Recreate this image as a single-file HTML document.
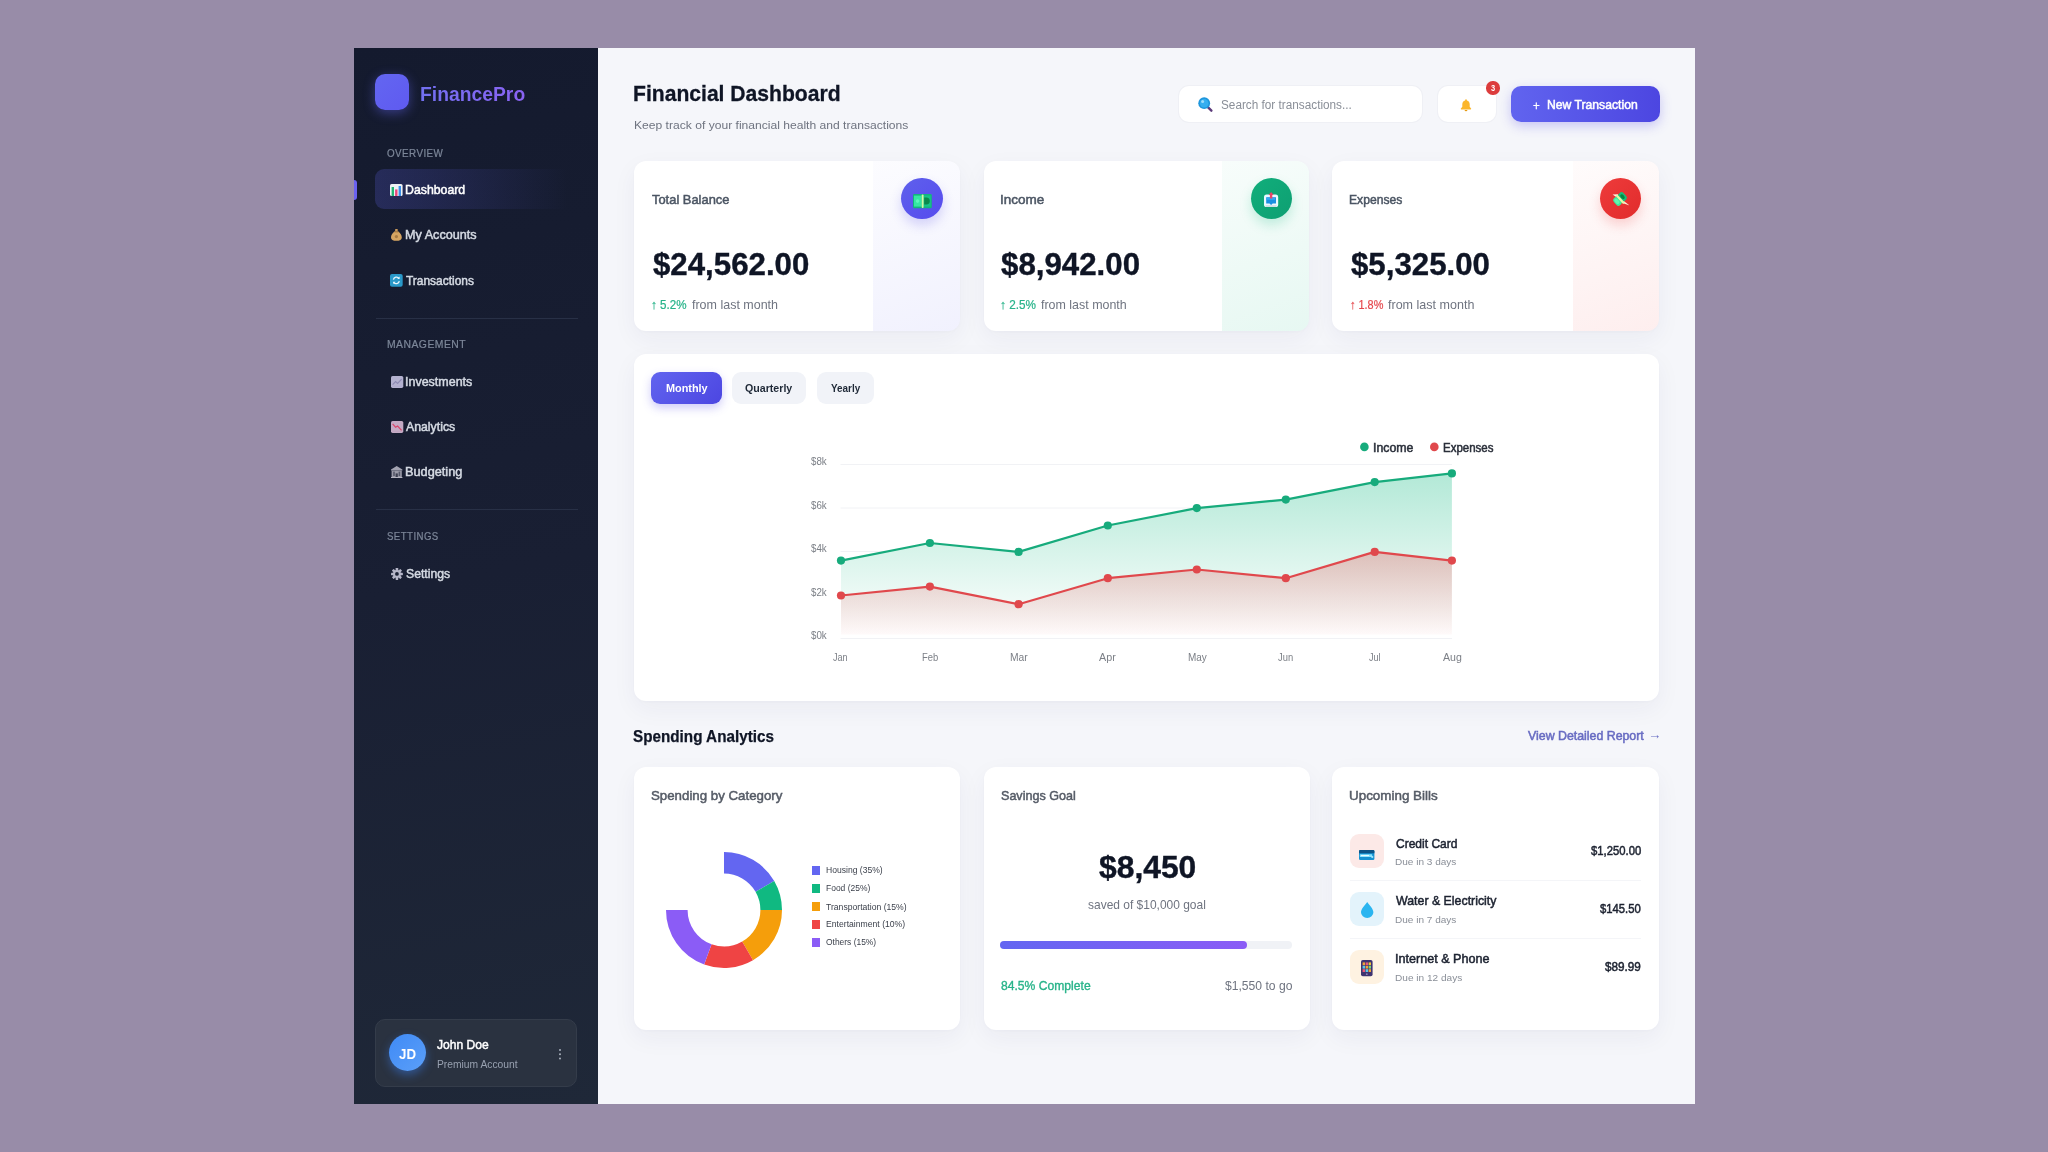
<!DOCTYPE html>
<html lang="en">
<head>
<meta charset="utf-8">
<title>FinancePro - Financial Dashboard</title>
<style>
*{box-sizing:border-box;margin:0;padding:0}
html,body{width:2048px;height:1152px;overflow:hidden}
body{background:#988ca8;font-family:"Liberation Sans",sans-serif;position:relative;color:#111827}
.abs,.t{position:absolute}
.t{white-space:nowrap;line-height:1;display:block;transform-origin:0 0}
#side{left:353.7px;top:47.8px;width:244px;height:1055.8px;background:linear-gradient(168deg,#141a2e 0%,#191f33 50%,#1f2838 100%)}
#main{left:597.6px;top:47.8px;width:1097.1px;height:1055.8px;background:#f5f6fa}
.card{position:absolute;background:#fff;border-radius:12px;box-shadow:0 8px 24px rgba(30,40,90,.05),0 1px 3px rgba(30,40,90,.025);overflow:hidden}
.tint{position:absolute;right:0;top:0;width:86.5px;height:100%}
.hr{position:absolute;height:1px;background:#283046;left:376px;width:201.5px}
.ic{position:absolute;width:41.400px;height:41.200px;border-radius:50%;top:178px}
.tab{position:absolute;height:32.200px;border-radius:9px;background:#f1f3f8;top:371.600px}
.sq{position:absolute;width:8.700px;height:8.800px;left:811.600px;margin-top:-.3px}
.bi{position:absolute;width:34.2px;height:34.2px;border-radius:9px;left:1349.6px}
.sep{position:absolute;left:1350px;width:291px;height:1px;background:#f4f5f8}
svg{position:absolute;overflow:visible}
</style>
</head>
<body>
<div id="side" class="abs"></div>
<div id="main" class="abs"></div>

<!-- SIDEBAR -->
<div class="abs" style="left:374.6px;top:74.4px;width:34.6px;height:35.2px;border-radius:10px;background:linear-gradient(135deg,#6366f1,#5f5af0);box-shadow:0 3px 12px rgba(99,102,241,.45)"></div>
<div class="abs" style="left:353.7px;top:179.8px;width:3.4px;height:20px;border-radius:0 3px 3px 0;background:#6b63f1"></div>
<div class="abs" style="left:374.7px;top:169.4px;width:203px;height:40.1px;border-radius:9px;background:linear-gradient(90deg,rgba(99,102,241,.22),rgba(99,102,241,.12) 45%,rgba(99,102,241,0) 95%)"></div>
<div class="hr" style="top:317.5px"></div>
<div class="hr" style="top:509px"></div>
<div class="abs" style="left:374.8px;top:1019px;width:202.4px;height:67.5px;border-radius:10px;background:#2a3240;border:1px solid #343c4a"></div>
<div class="abs" style="left:389px;top:1034.3px;width:37.2px;height:37.2px;border-radius:50%;background:linear-gradient(135deg,#3f8af6,#5b9ff8);box-shadow:0 4px 10px rgba(59,130,246,.45)"></div>
<div class="abs" style="left:558.700px;top:1048.700px;width:2.700px;height:2.700px;border-radius:50%;background:#a9b0bc;box-shadow:0 4.300px 0 #a9b0bc,0 8.600px 0 #a9b0bc"></div>

<!-- nav icons -->
<svg style="left:390.3px;top:184.4px" width="12.6" height="12" viewBox="0 0 12.6 12"><rect width="12.6" height="12" rx="1.6" fill="#eef1f4"/><rect x="1.6" y="3" width="2.4" height="9" fill="#22b573"/><rect x="5.1" y="5.4" width="2.4" height="6.6" fill="#e8457a"/><rect x="8.6" y="2" width="2.4" height="10" fill="#3b8fe8"/></svg>
<svg style="left:391.2px;top:229.3px" width="10.8" height="11.8" viewBox="0 0 10.8 11.8"><rect x="4.1" y="0" width="2.6" height="2.4" rx=".6" fill="#c99a5b"/><path d="M3.6 2.6h3.6c2.2 1.6 3.6 3.6 3.6 5.8 0 2.4-2 3.4-5.4 3.4S0 10.800 0 8.400c0-2.200 1.400-4.200 3.600-5.800z" fill="#d6a562"/><rect x="3.4" y="2.3" width="4" height="1.1" fill="#a87b43"/><circle cx="5.400" cy="7.600" r="1.600" fill="#a87b43"/></svg>
<svg style="left:390.4px;top:274.1px" width="12.7" height="12.7" viewBox="0 0 12.7 12.7"><rect width="12.7" height="12.700" rx="2" fill="#2a98c8"/><path d="M3.4 5.600a3.100 3.100 0 0 1 5.600-1.200M9.300 7.100a3.100 3.100 0 0 1-5.600 1.200" fill="none" stroke="#e8f6fc" stroke-width="1.300"/><path d="M9.600 2.600v2.400h-2.400zM3.100 10.100v-2.400h2.400z" fill="#e8f6fc"/></svg>
<svg style="left:390.6px;top:375.9px" width="12.3" height="11.9" viewBox="0 0 12.3 11.9"><rect width="12.3" height="11.9" rx="1.600" fill="#b4b2d0"/><path d="M1.600 8.600l3-3 2 1.800 4-4.200" fill="none" stroke="#8e8bb5" stroke-width="1.200"/><path d="M1.600 10.400h9.200" stroke="#aeabd0" stroke-width=".8"/></svg>
<svg style="left:390.600px;top:421.300px" width="12.300" height="11.900" viewBox="0 0 12.3 11.9"><rect width="12.300" height="11.900" rx="1.600" fill="#c4aac4"/><path d="M1.600 2.800l3 3.400 2-1.200 4 4.400" fill="none" stroke="#d9456b" stroke-width="1.200"/><path d="M1.600 10.400h9.200" stroke="#bfa3c0" stroke-width=".8"/></svg>
<svg style="left:391px;top:465.800px" width="11.400" height="12" viewBox="0 0 11.4 12"><path d="M5.700 0L11.400 3.400v1.200H0V3.400z" fill="#a3a3b1"/><rect x=".6" y="4.600" width="10.200" height="7.400" fill="#9a9aa8"/><rect x="2.200" y="5.600" width="1.600" height="4.400" fill="#55586a"/><rect x="7.600" y="5.600" width="1.600" height="4.400" fill="#55586a"/><rect x="4.600" y="7.400" width="2.200" height="4.600" fill="#3d4052"/><rect x="0" y="11" width="11.400" height="1" fill="#b5b5c2"/></svg>
<svg style="left:390.600px;top:568.100px" width="11.900" height="11.900" viewBox="-6 -6 12 12"><g fill="#b6b7c9"><circle r="3.900"/><rect x="-1.300" y="-6" width="2.600" height="12" rx=".5"/><rect x="-1.300" y="-6" width="2.600" height="12" rx=".5" transform="rotate(45)"/><rect x="-1.300" y="-6" width="2.600" height="12" rx=".5" transform="rotate(90)"/><rect x="-1.300" y="-6" width="2.600" height="12" rx=".5" transform="rotate(135)"/></g><circle r="1.900" fill="#1b2235"/></svg>

<!-- HEADER -->
<div class="abs" style="left:1179.4px;top:85.8px;width:242.400px;height:36.600px;border-radius:10px;background:#fff;box-shadow:0 0 0 1px #eff0f5"></div>
<svg style="left:1196.500px;top:96px" width="16" height="16" viewBox="0 0 16 16"><path d="M10.600 10.800l3.800 3.900" stroke="#5b3b7a" stroke-width="2.400" stroke-linecap="round"/><circle cx="7.200" cy="7.200" r="5.900" fill="#1e96dc"/><circle cx="7.200" cy="7.200" r="4.300" fill="#35aef0"/><circle cx="5.600" cy="5.400" r="1.500" fill="#9ddcfb"/></svg>
<div class="abs" style="left:1438.400px;top:85.800px;width:57.900px;height:36.600px;border-radius:10px;background:#fff;box-shadow:0 0 0 1px #eff0f5"></div>
<svg style="left:1460.300px;top:99.400px" width="12" height="12" viewBox="0 0 12 12"><path d="M6 0.300c.5 0 .9.400.9.900v.3c1.700.4 2.800 1.900 2.800 3.700v2.600l1.400 1.700c.3.400 0 .9-.4.900H1.300c-.5 0-.7-.5-.4-.9l1.400-1.700V5.200c0-1.800 1.100-3.300 2.800-3.700v-.3c0-.5.400-.9.900-.9z" fill="#fbb62c"/><path d="M4.600 10.900h2.800a1.400 1.400 0 0 1-2.800 0z" fill="#e59a14"/></svg>
<div class="abs" style="left:1486.400px;top:81.300px;width:13.300px;height:13.300px;border-radius:50%;background:#dc3c3c"></div>
<div class="abs" style="left:1511px;top:85.600px;width:148.600px;height:36.800px;border-radius:10px;background:linear-gradient(90deg,#6164ef,#4c46e1);box-shadow:0 4px 12px rgba(79,70,229,.28)"></div>

<!-- STAT CARDS -->
<div class="card" style="left:633.700px;top:161.200px;width:325.900px;height:170.100px"><div class="tint" style="background:linear-gradient(160deg,rgba(99,102,241,.02),rgba(99,102,241,.09))"></div></div>
<div class="card" style="left:983.700px;top:161.200px;width:325.100px;height:170.100px"><div class="tint" style="background:linear-gradient(160deg,rgba(16,185,129,.03),rgba(16,185,129,.1))"></div></div>
<div class="card" style="left:1332.400px;top:161.200px;width:326.800px;height:170.100px"><div class="tint" style="background:linear-gradient(160deg,rgba(239,68,68,.02),rgba(239,68,68,.09))"></div></div>
<div class="ic" style="left:901.300px;background:linear-gradient(135deg,#5e60ec,#574bee);box-shadow:0 6px 12px rgba(79,70,229,.22)"></div>
<div class="ic" style="left:1250.600px;background:linear-gradient(135deg,#11ae7b,#0e9f72);box-shadow:0 6px 12px rgba(16,185,129,.22)"></div>
<div class="ic" style="left:1599.900px;background:linear-gradient(135deg,#ee3b3b,#e12c2c);box-shadow:0 6px 12px rgba(239,68,68,.22)"></div>
<!-- stat icons -->
<svg style="left:912.6px;top:193.5px" width="18.8" height="14.2" viewBox="0 0 18.8 14.2"><rect width="18.8" height="14.2" rx="1.2" fill="#13b57c"/><rect x="1" y="1.6" width="7.6" height="11" fill="#35e7a3"/><rect x="10.6" y="1.6" width="7.2" height="11" fill="#16c389"/><path d="M11.200 3.600h2.200a3.400 3.500 0 0 1 0 7h-2.200z" fill="#0a8a4c"/><circle cx="4.600" cy="7.100" r="1.800" fill="#5cf5bb"/><rect x="8.700" y="0.600" width="1.900" height="13.400" rx=".9" fill="#d2f8a4"/></svg>
<svg style="left:1264.200px;top:192.200px" width="14.200" height="15.600" viewBox="0 0 14.2 15.6"><rect x="0" y="2.600" width="14.200" height="12.400" rx="2.600" fill="#eaf8fe"/><path d="M2.200 5.200h9.800v6.400l-3.300 0-1.600 1.500-1.600-1.500-3.300 0z" fill="#1b8fe2"/><path d="M3 5.600h8.200v2.200H3z" fill="#34a8f0"/><path d="M7.100 0l2.500 2.900H8.300v3.600H5.900V2.900H4.600z" fill="#e8456a"/><rect x="1.600" y="13.600" width="11" height=".9" fill="#b9c3cc"/></svg>
<svg style="left:1610.300px;top:189.100px" width="20" height="20" viewBox="-10 -10 20 20"><g transform="rotate(-43)"><path d="M-1.500 -4.500L-2.300 -8.400L2 -4.500z" fill="#fff6e4"/><path d="M-1.200 4L1.500 4L2.600 11.200z" fill="#fff0da"/><rect x="-6.600" y="-4.600" width="6.400" height="9.200" rx="2.600" fill="#3fe89c"/><rect x="-5.600" y="-3.400" width="3.600" height="6" rx="1.800" fill="#62f7b0"/><rect x=".2" y="-4.600" width="6.400" height="9.200" rx="2.600" fill="#16bd7a"/><ellipse cx="3.400" cy="0" rx="1.700" ry="2.700" fill="#078640"/><rect x="-1.100" y="-5.400" width="2.200" height="11.400" rx="1" fill="#e6f7a6"/></g></svg>

<!-- CHART CARD -->
<div class="card" style="left:633.800px;top:354.200px;width:1025.400px;height:346.800px"></div>
<div class="tab" style="left:651.100px;width:71.400px;background:linear-gradient(135deg,#6164ef,#4c46e1);box-shadow:0 4px 10px rgba(79,70,229,.28)"></div>
<div class="tab" style="left:731.900px;width:74.400px"></div>
<div class="tab" style="left:816.700px;width:57.100px"></div>

<svg style="left:633px;top:354px" width="1026" height="347" viewBox="633 354 1026 347">
<defs>
<linearGradient id="gi" gradientUnits="userSpaceOnUse" x1="0" y1="473" x2="0" y2="634.500"><stop offset="0" stop-color="#10b981" stop-opacity=".32"/><stop offset="1" stop-color="#10b981" stop-opacity="0"/></linearGradient>
<linearGradient id="ge" gradientUnits="userSpaceOnUse" x1="0" y1="552" x2="0" y2="634.500"><stop offset="0" stop-color="#ea4548" stop-opacity=".3"/><stop offset="1" stop-color="#ea4548" stop-opacity=".03"/></linearGradient>
</defs>
<clipPath id="cg"><path d="M838 354H1454V473.400L1374.700 482.100L1285.800 499.600L1196.800 508.100L1107.800 525.500L1018.600 551.900L929.900 543L841 560.600H838Z"/></clipPath>
<path d="M840.500 464.500H1452M840.500 508H1452M840.500 551.500H1452" stroke="#f1f2f5" stroke-width="1" fill="none" clip-path="url(#cg)"/>
<path d="M840.500 638.500H1452" stroke="#f1f2f5" stroke-width="1" fill="none"/>
<path d="M841 560.600L929.900 543L1018.600 551.900L1107.800 525.500L1196.800 508.100L1285.800 499.600L1374.700 482.100L1451.900 473.400V634.500H841Z" fill="url(#gi)"/>
<path d="M841 595.500L929.900 586.600L1018.600 604.200L1107.800 578.200L1196.800 569.500L1285.800 578.200L1374.700 551.900L1451.900 560.600V634.500H841Z" fill="url(#ge)"/>
<path d="M841 560.600L929.900 543L1018.600 551.900L1107.800 525.500L1196.800 508.100L1285.800 499.600L1374.700 482.100L1451.900 473.400" fill="none" stroke="#17ab7c" stroke-width="2.200" stroke-linejoin="round"/>
<path d="M841 595.500L929.900 586.600L1018.600 604.200L1107.800 578.200L1196.800 569.500L1285.800 578.200L1374.700 551.900L1451.900 560.600" fill="none" stroke="#e0484c" stroke-width="2.200" stroke-linejoin="round"/>
<g fill="#17ab7c"><circle cx="841" cy="560.600" r="4.100"/><circle cx="929.900" cy="543" r="4.100"/><circle cx="1018.600" cy="551.900" r="4.100"/><circle cx="1107.800" cy="525.500" r="4.100"/><circle cx="1196.800" cy="508.100" r="4.100"/><circle cx="1285.800" cy="499.600" r="4.100"/><circle cx="1374.700" cy="482.100" r="4.100"/><circle cx="1451.900" cy="473.400" r="4.100"/><circle cx="1364.400" cy="446.900" r="4.300"/></g>
<g fill="#e0484c"><circle cx="841" cy="595.500" r="4.100"/><circle cx="929.900" cy="586.600" r="4.100"/><circle cx="1018.600" cy="604.200" r="4.100"/><circle cx="1107.800" cy="578.200" r="4.100"/><circle cx="1196.800" cy="569.500" r="4.100"/><circle cx="1285.800" cy="578.200" r="4.100"/><circle cx="1374.700" cy="551.900" r="4.100"/><circle cx="1451.900" cy="560.600" r="4.100"/><circle cx="1434.300" cy="446.900" r="4.300"/></g>
</svg>

<!-- BOTTOM CARDS -->
<div class="card" style="left:633.600px;top:767.300px;width:326.200px;height:262.300px"></div>
<div class="card" style="left:983.500px;top:767.300px;width:326px;height:262.300px"></div>
<div class="card" style="left:1332.300px;top:767.300px;width:326.600px;height:262.300px"></div>

<svg style="left:659.900px;top:845.700px" width="128" height="128" viewBox="-64 -64 128 128">
<g fill="none" stroke-width="21.600" transform="rotate(-90)">
<path d="M47.200 0A47.200 47.200 0 0 1 23.600 40.880" stroke="#6366f1"/>
<path d="M23.600 40.880A47.200 47.200 0 0 1 0 47.200" stroke="#10b981"/>
<path d="M0 47.200A47.200 47.200 0 0 1 -40.880 23.600" stroke="#f59e0b"/>
<path d="M-40.880 23.600A47.200 47.200 0 0 1 -44.350 -16.140" stroke="#ef4444"/>
<path d="M-44.350 -16.140A47.200 47.200 0 0 1 0 -47.200" stroke="#8b5cf6"/>
</g>
</svg>
<div class="sq" style="top:866.100px;background:#6366f1"></div>
<div class="sq" style="top:884.100px;background:#10b981"></div>
<div class="sq" style="top:902.300px;background:#f59e0b"></div>
<div class="sq" style="top:920.200px;background:#ef4444"></div>
<div class="sq" style="top:938.100px;background:#8b5cf6"></div>

<div class="abs" style="left:1000.400px;top:940.600px;width:291.700px;height:8.300px;border-radius:4.200px;background:#f0f2f6"></div>
<div class="abs" style="left:1000.400px;top:940.600px;width:246.300px;height:8.300px;border-radius:4.200px;background:linear-gradient(90deg,#6366f1,#8b5cf6)"></div>

<div class="bi" style="top:834px;background:#fce9e7"></div>
<div class="bi" style="top:892px;background:#e3f3fb"></div>
<div class="bi" style="top:950px;background:#fef2e1"></div>
<div class="sep" style="top:880px"></div>
<div class="sep" style="top:938px"></div>
<svg style="left:1359.300px;top:849.600px" width="15.400" height="10" viewBox="0 0 15.4 10"><rect width="15.400" height="10" rx="1.300" fill="#1692d2"/><path d="M0 1.300A1.300 1.300 0 0 1 1.300 0h12.800a1.300 1.300 0 0 1 1.300 1.300V3.300H0z" fill="#0c5487"/><rect x=".8" y="4.300" width="12.400" height="2.600" rx=".6" fill="#86e3ff"/><rect x="2" y="5" width="8" height="1.100" fill="#e9fbff"/><rect x="12.400" y="6.200" width="1.800" height="1.600" fill="#b5f0ff"/></svg>
<svg style="left:1360.700px;top:901.600px" width="12.400" height="16" viewBox="0 0 12.4 16"><path d="M6.200 0C8.400 3.400 12.400 6.800 12.400 10.200a6.200 5.800 0 0 1-12.400 0C0 6.800 4 3.400 6.200 0z" fill="#2bb5f0"/></svg>
<svg style="left:1360.800px;top:959.700px" width="11.600" height="16.200" viewBox="0 0 11.6 16.200"><rect width="11.600" height="16.200" rx="1.800" fill="#3e3470"/><g><rect x="1.600" y="2.400" width="2.400" height="2.800" fill="#f0a43a"/><rect x="4.600" y="2.400" width="2.400" height="2.800" fill="#e85a7a"/><rect x="7.600" y="2.400" width="2.400" height="2.800" fill="#f0c53a"/><rect x="1.600" y="5.800" width="2.400" height="2.800" fill="#5ac8e8"/><rect x="4.600" y="5.800" width="2.400" height="2.800" fill="#f0a43a"/><rect x="7.600" y="5.800" width="2.400" height="2.800" fill="#7ad87a"/><rect x="1.600" y="9.200" width="2.400" height="2.800" fill="#e85a7a"/><rect x="4.600" y="9.200" width="2.400" height="2.800" fill="#5ac8e8"/><rect x="7.600" y="9.200" width="2.400" height="2.800" fill="#f0a43a"/></g><circle cx="5.800" cy="14.200" r=".9" fill="#8d86b8"/></svg>

<span class="t" style="top:83.51px;left:419.87px;font-size:20.8px;color:#7a66f3;transform:scaleX(0.9287);font-weight:700;background:linear-gradient(90deg,#7270f0,#8a63f3);-webkit-background-clip:text;background-clip:text;color:transparent">FinancePro</span>
<span class="t" style="top:148.91px;left:386.60px;font-size:10px;color:#7d8799;transform:scaleX(0.9821);-webkit-text-stroke:0.2px #7d8799;letter-spacing:0.45px">OVERVIEW</span>
<span class="t" style="top:184.31px;left:404.87px;font-size:12.6px;color:#ffffff;transform:scaleX(0.9768);-webkit-text-stroke:0.5px #ffffff">Dashboard</span>
<span class="t" style="top:229.36px;left:404.85px;font-size:12.6px;color:#d5dae3;transform:scaleX(1.0029);-webkit-text-stroke:0.5px #d5dae3">My Accounts</span>
<span class="t" style="top:274.62px;left:405.85px;font-size:12.6px;color:#d5dae3;transform:scaleX(0.9484);-webkit-text-stroke:0.5px #d5dae3">Transactions</span>
<span class="t" style="top:340.11px;left:387.00px;font-size:10px;color:#7d8799;transform:scaleX(1.0382);-webkit-text-stroke:0.2px #7d8799;letter-spacing:0.45px">MANAGEMENT</span>
<span class="t" style="top:375.71px;left:404.86px;font-size:12.6px;color:#d5dae3;transform:scaleX(0.9910);-webkit-text-stroke:0.5px #d5dae3">Investments</span>
<span class="t" style="top:421.12px;left:405.85px;font-size:12.6px;color:#d5dae3;transform:scaleX(0.9761);-webkit-text-stroke:0.5px #d5dae3">Analytics</span>
<span class="t" style="top:465.71px;left:405.14px;font-size:12.6px;color:#d5dae3;transform:scaleX(1.0114);-webkit-text-stroke:0.5px #d5dae3">Budgeting</span>
<span class="t" style="top:532.00px;left:386.70px;font-size:10px;color:#7d8799;transform:scaleX(0.9648);-webkit-text-stroke:0.2px #7d8799;letter-spacing:0.45px">SETTINGS</span>
<span class="t" style="top:567.71px;left:405.85px;font-size:12.6px;color:#d5dae3;transform:scaleX(0.9711);-webkit-text-stroke:0.5px #d5dae3">Settings</span>
<span class="t" style="top:1046.76px;left:399.00px;font-size:14.8px;color:#ffffff;transform:scaleX(0.8971);font-weight:700">JD</span>
<span class="t" style="top:1038.21px;left:436.75px;font-size:13.2px;color:#ffffff;transform:scaleX(0.9159);-webkit-text-stroke:0.5px #ffffff">John Doe</span>
<span class="t" style="top:1058.91px;left:436.50px;font-size:11.2px;color:#98a1b0;transform:scaleX(0.9195)">Premium Account</span>
<span class="t" style="top:83.41px;left:632.96px;font-size:22.5px;color:#0f1525;transform:scaleX(0.9380);font-weight:700;-webkit-text-stroke:0.3px #0f1525">Financial Dashboard</span>
<span class="t" style="top:118.60px;left:633.50px;font-size:11.7px;color:#6f7480;transform:scaleX(1.0349)">Keep track of your financial health and transactions</span>
<span class="t" style="top:99.41px;left:1221.00px;font-size:12.3px;color:#8a8f98;transform:scaleX(0.9569)">Search for transactions...</span>
<span class="t" style="top:84.01px;left:1491.00px;font-size:8.5px;color:#ffffff;transform:scaleX(0.8800);font-weight:700">3</span>
<span class="t" style="top:98.60px;left:1532.65px;font-size:13px;color:#ffffff;transform:scaleX(0.8857);-webkit-text-stroke:0.3px #ffffff">+</span>
<span class="t" style="top:99.32px;left:1547.06px;font-size:12.3px;color:#ffffff;transform:scaleX(0.9905);-webkit-text-stroke:0.5px #ffffff">New Transaction</span>
<span class="t" style="top:192.80px;left:651.85px;font-size:13px;color:#4b5563;transform:scaleX(0.9920);-webkit-text-stroke:0.5px #4b5563">Total Balance</span>
<span class="t" style="top:192.80px;left:999.96px;font-size:13px;color:#4b5563;transform:scaleX(1.0386);-webkit-text-stroke:0.5px #4b5563">Income</span>
<span class="t" style="top:192.80px;left:1349.32px;font-size:13px;color:#4b5563;transform:scaleX(0.9330);-webkit-text-stroke:0.5px #4b5563">Expenses</span>
<span class="t" style="top:250.30px;left:652.90px;font-size:30.9px;color:#0f1525;transform:scaleX(1.0109);font-weight:700;-webkit-text-stroke:0.4px #0f1525">$24,562.00</span>
<span class="t" style="top:250.30px;left:1001.45px;font-size:30.9px;color:#0f1525;transform:scaleX(1.0118);font-weight:700;-webkit-text-stroke:0.4px #0f1525">$8,942.00</span>
<span class="t" style="top:250.30px;left:1351.20px;font-size:30.9px;color:#0f1525;transform:scaleX(1.0107);font-weight:700;-webkit-text-stroke:0.4px #0f1525">$5,325.00</span>
<span class="t" style="top:298.71px;left:651.49px;font-size:12.6px;color:#27b389;transform:scaleX(0.9216);-webkit-text-stroke:0.22px #27b389">↑ 5.2%</span>
<span class="t" style="top:298.71px;left:692.00px;font-size:12.6px;color:#6f7480;transform:scaleX(0.9910)">from last month</span>
<span class="t" style="top:298.71px;left:1000.43px;font-size:12.6px;color:#27b389;transform:scaleX(0.9324);-webkit-text-stroke:0.22px #27b389">↑ 2.5%</span>
<span class="t" style="top:298.71px;left:1041.25px;font-size:12.6px;color:#6f7480;transform:scaleX(0.9881)">from last month</span>
<span class="t" style="top:298.71px;left:1349.99px;font-size:12.6px;color:#e5484d;transform:scaleX(0.8653);-webkit-text-stroke:0.22px #e5484d">↑ 1.8%</span>
<span class="t" style="top:298.71px;left:1388.25px;font-size:12.6px;color:#6f7480;transform:scaleX(0.9950)">from last month</span>
<span class="t" style="top:382.91px;left:665.60px;font-size:11.05px;color:#ffffff;transform:scaleX(0.9839);font-weight:700">Monthly</span>
<span class="t" style="top:382.91px;left:745.20px;font-size:11.05px;color:#1f2937;transform:scaleX(0.9625);font-weight:700">Quarterly</span>
<span class="t" style="top:382.91px;left:830.80px;font-size:11.05px;color:#1f2937;transform:scaleX(0.8978);font-weight:700">Yearly</span>
<span class="t" style="top:456.11px;left:811.30px;font-size:10.6px;color:#7b7f86;transform:scaleX(0.9222)">$8k</span>
<span class="t" style="top:499.61px;left:811.30px;font-size:10.6px;color:#7b7f86;transform:scaleX(0.9222)">$6k</span>
<span class="t" style="top:543.11px;left:811.30px;font-size:10.6px;color:#7b7f86;transform:scaleX(0.9222)">$4k</span>
<span class="t" style="top:586.61px;left:811.30px;font-size:10.6px;color:#7b7f86;transform:scaleX(0.9222)">$2k</span>
<span class="t" style="top:630.20px;left:811.30px;font-size:10.6px;color:#7b7f86;transform:scaleX(0.9222)">$0k</span>
<span class="t" style="top:651.81px;left:833.40px;font-size:10.6px;color:#7b7f86;transform:scaleX(0.8552)">Jan</span>
<span class="t" style="top:651.81px;left:921.90px;font-size:10.6px;color:#7b7f86;transform:scaleX(0.8877)">Feb</span>
<span class="t" style="top:651.81px;left:1009.80px;font-size:10.6px;color:#7b7f86;transform:scaleX(0.9724)">Mar</span>
<span class="t" style="top:651.81px;left:1099.30px;font-size:10.6px;color:#7b7f86;transform:scaleX(1.0143)">Apr</span>
<span class="t" style="top:651.81px;left:1187.60px;font-size:10.6px;color:#7b7f86;transform:scaleX(0.9413)">May</span>
<span class="t" style="top:651.81px;left:1278.30px;font-size:10.6px;color:#7b7f86;transform:scaleX(0.8843)">Jun</span>
<span class="t" style="top:651.81px;left:1369.40px;font-size:10.6px;color:#7b7f86;transform:scaleX(0.8568)">Jul</span>
<span class="t" style="top:651.81px;left:1442.50px;font-size:10.6px;color:#7b7f86;transform:scaleX(0.9970)">Aug</span>
<span class="t" style="top:441.70px;left:1372.99px;font-size:12.2px;color:#2a2f3a;transform:scaleX(1.0118);-webkit-text-stroke:0.5px #2a2f3a">Income</span>
<span class="t" style="top:441.70px;left:1442.91px;font-size:12.2px;color:#2a2f3a;transform:scaleX(0.9422);-webkit-text-stroke:0.5px #2a2f3a">Expenses</span>
<span class="t" style="top:729.32px;left:633.12px;font-size:15.7px;color:#0f1525;transform:scaleX(0.9719);font-weight:700;-webkit-text-stroke:0.25px #0f1525">Spending Analytics</span>
<span class="t" style="top:729.91px;left:1527.85px;font-size:12.2px;color:#676bc2;transform:scaleX(1.0133);-webkit-text-stroke:0.5px #676bc2">View Detailed Report</span>
<span class="t" style="top:728.70px;left:1648.20px;font-size:12.2px;color:#676bc2;transform:scaleX(1.1000)">→</span>
<span class="t" style="top:788.51px;left:651.45px;font-size:13.3px;color:#555b66;transform:scaleX(0.9982);-webkit-text-stroke:0.5px #555b66">Spending by Category</span>
<span class="t" style="top:788.51px;left:1001.15px;font-size:13.3px;color:#555b66;transform:scaleX(0.9453);-webkit-text-stroke:0.5px #555b66">Savings Goal</span>
<span class="t" style="top:788.51px;left:1349.14px;font-size:13.3px;color:#555b66;transform:scaleX(1.0082);-webkit-text-stroke:0.5px #555b66">Upcoming Bills</span>
<span class="t" style="top:865.41px;left:826.10px;font-size:9.5px;color:#3a3f4a;transform:scaleX(0.9015)">Housing (35%)</span>
<span class="t" style="top:883.41px;left:826.10px;font-size:9.5px;color:#3a3f4a;transform:scaleX(0.8914)">Food (25%)</span>
<span class="t" style="top:901.72px;left:826.10px;font-size:9.5px;color:#3a3f4a;transform:scaleX(0.9074)">Transportation (15%)</span>
<span class="t" style="top:919.41px;left:826.10px;font-size:9.5px;color:#3a3f4a;transform:scaleX(0.9085)">Entertainment (10%)</span>
<span class="t" style="top:937.31px;left:826.10px;font-size:9.5px;color:#3a3f4a;transform:scaleX(0.8877)">Others (15%)</span>
<span class="t" style="top:853.41px;left:1098.50px;font-size:30.9px;color:#0f1525;transform:scaleX(1.0300);font-weight:700;-webkit-text-stroke:0.4px #0f1525">$8,450</span>
<span class="t" style="top:898.81px;left:1087.90px;font-size:12.4px;color:#6f7480;transform:scaleX(0.9663)">saved of $10,000 goal</span>
<span class="t" style="top:980.40px;left:1001.07px;font-size:12.4px;color:#27b389;transform:scaleX(0.9786);-webkit-text-stroke:0.35px #27b389">84.5% Complete</span>
<span class="t" style="top:980.40px;left:1224.70px;font-size:12.4px;color:#6f7480;transform:scaleX(0.9796)">$1,550 to go</span>
<span class="t" style="top:837.61px;left:1395.65px;font-size:12.7px;color:#1c2230;transform:scaleX(0.9473);-webkit-text-stroke:0.5px #1c2230">Credit Card</span>
<span class="t" style="top:857.01px;left:1395.40px;font-size:9.9px;color:#8a8f98;transform:scaleX(1.0158)">Due in 3 days</span>
<span class="t" style="top:845.41px;left:1590.75px;font-size:12.5px;color:#1c2230;transform:scaleX(0.9037);-webkit-text-stroke:0.5px #1c2230">$1,250.00</span>
<span class="t" style="top:895.40px;left:1395.65px;font-size:12.7px;color:#1c2230;transform:scaleX(0.9738);-webkit-text-stroke:0.5px #1c2230">Water &amp; Electricity</span>
<span class="t" style="top:914.90px;left:1395.40px;font-size:9.9px;color:#8a8f98;transform:scaleX(1.0158)">Due in 7 days</span>
<span class="t" style="top:903.32px;left:1600.25px;font-size:12.5px;color:#1c2230;transform:scaleX(0.9020);-webkit-text-stroke:0.5px #1c2230">$145.50</span>
<span class="t" style="top:953.30px;left:1394.66px;font-size:12.7px;color:#1c2230;transform:scaleX(0.9929);-webkit-text-stroke:0.5px #1c2230">Internet &amp; Phone</span>
<span class="t" style="top:972.70px;left:1395.40px;font-size:9.9px;color:#8a8f98;transform:scaleX(1.0207)">Due in 12 days</span>
<span class="t" style="top:961.11px;left:1605.15px;font-size:12.5px;color:#1c2230;transform:scaleX(0.9378);-webkit-text-stroke:0.5px #1c2230">$89.99</span>
</body>
</html>
